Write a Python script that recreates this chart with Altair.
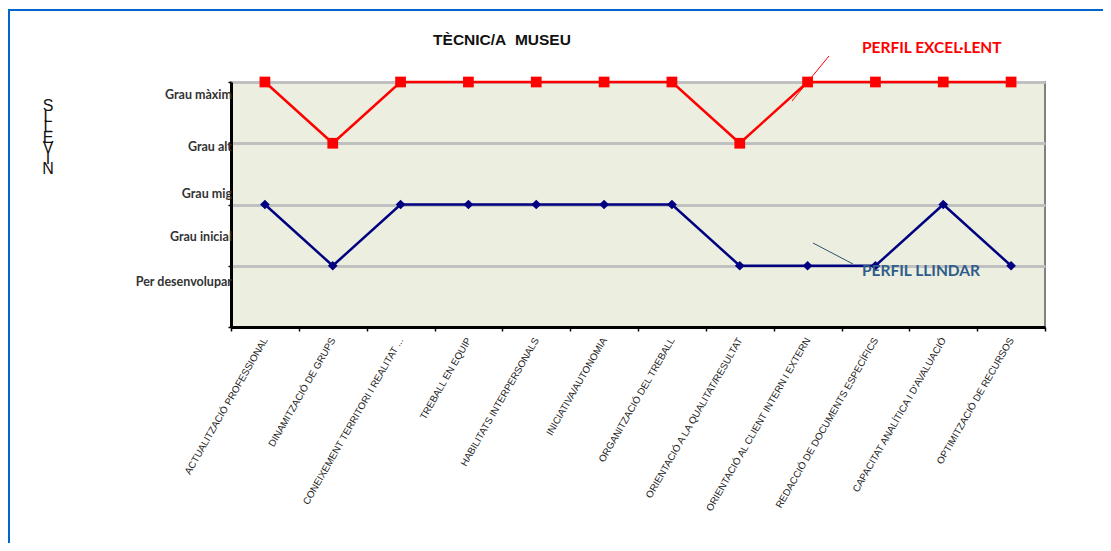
import altair as alt
import pandas as pd

categories = [
    "ACTUALITZACIÓ PROFESSIONAL",
    "DINAMITZACIÓ DE GRUPS",
    "CONEIXEMENT TERRITORI I REALITAT ...",
    "TREBALL EN EQUIP",
    "HABILITATS INTERPERSONALS",
    "INICIATIVA/AUTONOMIA",
    "ORGANITZACIÓ DEL TREBALL",
    "ORIENTACIÓ A LA QUALITAT/RESULTAT",
    "ORIENTACIÓ AL CLIENT INTERN I EXTERN",
    "REDACCIÓ DE DOCUMENTS ESPECÍFICS",
    "CAPACITAT ANALÍTICA I D'AVALUACIÓ",
    "OPTIMITZACIÓ DE RECURSOS",
]
perfil_excellent = [4, 3, 4, 4, 4, 4, 4, 3, 4, 4, 4, 4]
perfil_llindar = [2, 1, 2, 2, 2, 2, 2, 1, 1, 1, 2, 1]

level_labels = ["Grau màxim", "Grau alt", "Grau mig", "Grau inicial", "Per desenvolupar"]
level_label_pos = [3.79, 2.94, 2.17, 1.47, 0.73]

RED = "#FF0000"
BLUE = "#000080"

df = pd.DataFrame(
    {
        "cat": categories * 2,
        "val": perfil_excellent + perfil_llindar,
        "series": ["PERFIL EXCEL·LENT"] * len(categories) + ["PERFIL LLINDAR"] * len(categories),
    }
)

xenc = alt.X(
    "cat:N",
    sort=categories,
    bandPosition=0.5,
    scale=alt.Scale(type="band", paddingInner=0, paddingOuter=0),
    axis=alt.Axis(
        title=None,
        labelAngle=300,
        labelAlign="right",
        labelBaseline="middle",
        labelFont="Liberation Sans",
        labelFontSize=9.8,
        labelColor="#222222",
        labelLimit=400,
        labelPadding=7,
        tickBand="extent",
        ticks=True,
        tickColor="black",
        tickSize=4,
        tickWidth=1.5,
        domainColor="black",
        domainWidth=3,
        grid=False,
    ),
)
yenc = alt.Y(
    "val:Q",
    scale=alt.Scale(domain=[0, 4], nice=False, zero=True),
    axis=alt.Axis(
        title=None,
        values=[0, 1, 2, 3, 4],
        labels=False,
        ticks=True,
        tickSize=3,
        tickColor="black",
        tickWidth=1.5,
        domainColor="black",
        domainWidth=3,
        grid=True,
        gridColor="#C0C0C0",
        gridWidth=3,
    ),
)

base = alt.Chart(df)
red = base.transform_filter(alt.datum.series == "PERFIL EXCEL·LENT")
blue = base.transform_filter(alt.datum.series == "PERFIL LLINDAR")

red_line = red.mark_line(color=RED, strokeWidth=2.5).encode(x=xenc, y=yenc)
red_pts = red.mark_point(shape="square", filled=True, opacity=1, color=RED, size=115).encode(x=xenc, y=yenc)
blue_line = blue.mark_line(color=BLUE, strokeWidth=2.5).encode(x=xenc, y=yenc)
blue_pts = blue.mark_point(shape="diamond", filled=True, opacity=1, color=BLUE, size=95).encode(x=xenc, y=yenc)

lab_df = pd.DataFrame({"label": level_labels, "pos": level_label_pos})
ylabels = alt.Chart(lab_df).mark_text(
    align="right", baseline="middle", font="Lato", fontWeight="bold", fontSize=12.5, color="#333333"
).encode(x=alt.value(1), y=alt.Y("pos:Q"), text="label:N")

one = alt.Chart(pd.DataFrame({"a": [0]}))

title = one.mark_text(
    text="TÈCNIC/A\u00a0\u00a0MUSEU", font="Liberation Sans", fontWeight="bold", fontSize=15.5,
    align="center", baseline="middle", color="#111111"
).encode(x=alt.value(271), y=alt.value(-42))

ytitle = one.mark_text(
    text=["S", "L", "L", "E", "V", "I", "N"], font="Liberation Sans", fontSize=16,
    lineHeight=10.5, align="center", baseline="top", color="#111111"
).encode(x=alt.value(-183), y=alt.value(16))

red_label = one.mark_text(
    text="PERFIL EXCEL·LENT", font="Lato", fontWeight="bold", fontSize=15.5,
    align="left", baseline="middle", color=RED
).encode(x=alt.value(631), y=alt.value(-34))
red_leader = one.mark_rule(color=RED, strokeWidth=1).encode(
    x=alt.value(598), x2=alt.value(561), y=alt.value(-26), y2=alt.value(19)
)

blue_label = one.mark_text(
    text="PERFIL LLINDAR", font="Lato", fontWeight="bold", fontSize=15.5,
    align="left", baseline="middle", color="#2E5D8C"
).encode(x=alt.value(631), y=alt.value(189))
blue_leader = one.mark_rule(color="#2F4F6F", strokeWidth=1).encode(
    x=alt.value(582), x2=alt.value(622), y=alt.value(161), y2=alt.value(182)
)

frame = one.mark_rect(fillOpacity=0, stroke="#0066CC", strokeWidth=2).encode(
    x=alt.value(-222), x2=alt.value(900), y=alt.value(-72), y2=alt.value(500)
)

chart = (
    alt.layer(
        frame, red_line, blue_line, red_pts, blue_pts, ylabels, title, ytitle,
        red_label, red_leader, blue_label, blue_leader,
    )
    .properties(
        width=814,
        height=245,
        autosize=alt.AutoSizeParams(type="none"),
        padding={"left": 223, "top": 74, "right": 58, "bottom": 216},
        background="white",
    )
    .configure_view(fill="#ECEFDF", stroke="#808080", strokeWidth=2)
)

chart.save("out.html", embed_options={"renderer": "svg", "actions": False})
